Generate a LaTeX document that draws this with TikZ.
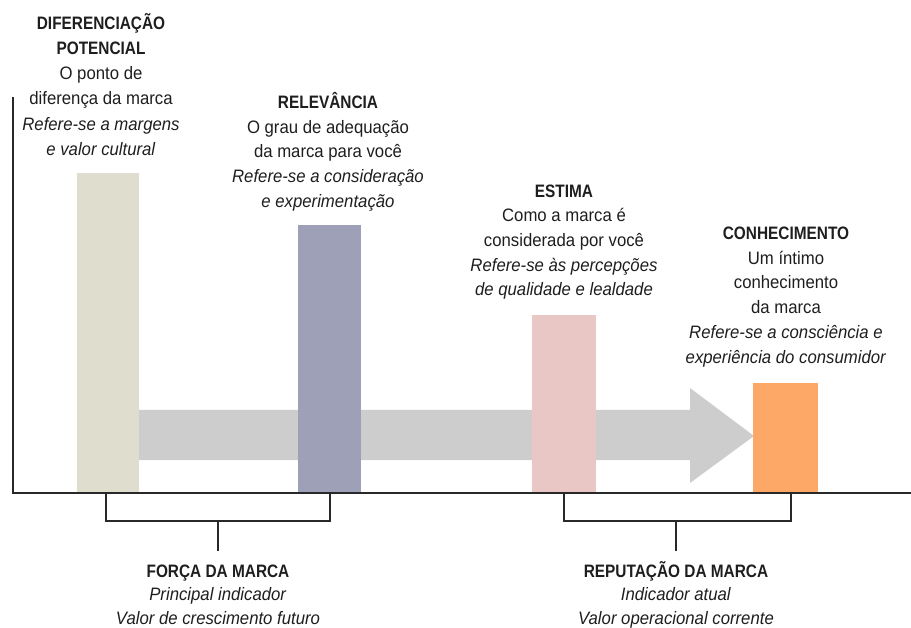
\documentclass[tikz,border=0pt]{standalone}
\usepackage{fontspec}
\setmainfont{Liberation Sans}[FakeStretch=0.93,BoldFeatures={FakeStretch=0.855},BoldItalicFeatures={FakeStretch=0.855}]
\usetikzlibrary{calc}
\definecolor{cA}{RGB}{222,221,206}
\definecolor{cB}{RGB}{158,160,184}
\definecolor{cC}{RGB}{232,199,197}
\definecolor{cD}{RGB}{253,168,102}
\definecolor{cArrow}{RGB}{205,205,205}
\definecolor{cLine}{RGB}{40,40,40}
\definecolor{cText}{RGB}{30,30,30}
\newcommand{\toph}{\vphantom{ÃÂ}}
\begin{document}
\begin{tikzpicture}[x=1pt,y=-1pt,
  bar/.style={draw=none,inner sep=0,anchor=south west},
  lbl/.style={align=center,inner sep=0,anchor=north,text=cText,font=\fontsize{18}{24.7}\selectfont},
  axisline/.style={draw=cLine,line width=2pt},
  brk/.style={draw=cLine,line width=1.8pt}]
\useasboundingbox (0,0) rectangle (911,628);
% arrow
\fill[cArrow] (139,410) -- (690,410) -- (690,388) -- (754,436) -- (690,483) -- (690,460) -- (139,460) -- cycle;
% bars
\node[bar,fill=cA,minimum width=62pt,minimum height=320pt] (b1) at (77,493) {};
\node[bar,fill=cB,minimum width=63pt,minimum height=268pt] (b2) at (298,493) {};
\node[bar,fill=cC,minimum width=64pt,minimum height=178pt] (b3) at (532,493) {};
\node[bar,fill=cD,minimum width=65pt,minimum height=110pt] (b4) at (753,493) {};
% axes
\coordinate (o) at (13,493);
\coordinate (ytop) at (13,97);
\coordinate (xend) at (911,493);
\draw[axisline] (ytop) -- (o) -- (xend);
% top labels
\node[lbl,font=\fontsize{18}{25.2}\selectfont] (t1) at (101,13) {\toph\textbf{DIFERENCIAÇÃO}\\\textbf{POTENCIAL}\\O ponto de\\diferença da marca\\\textit{Refere-se a margens}\\\textit{e valor cultural}};
\node[lbl] (t2) at (328,92) {\toph\textbf{RELEVÂNCIA}\\O grau de adequação\\da marca para você\\\textit{Refere-se a consideração}\\\textit{e experimentação}};
\node[lbl] (t3) at (564,181) {\toph\textbf{ESTIMA}\\Como a marca é\\considerada por você\\\textit{Refere-se às percepções}\\\textit{de qualidade e lealdade}};
\node[lbl] (t4) at (786,223.5) {\toph\textbf{CONHECIMENTO}\\Um íntimo\\conhecimento\\da marca\\\textit{Refere-se a consciência e}\\\textit{experiência do consumidor}};
% bottom labels
\node[lbl,font=\fontsize{18}{23.6}\selectfont] (forca) at (218,561) {\toph\textbf{FORÇA DA MARCA}\\\textit{Principal indicador}\\\textit{Valor de crescimento futuro}};
\node[lbl,font=\fontsize{18}{23.6}\selectfont] (reput) at (676,561) {\toph\textbf{REPUTAÇÃO DA MARCA}\\\textit{Indicador atual}\\\textit{Valor operacional corrente}};
% brackets
\draw[brk] (b1.south) ++(-2,0) -- ++(0,28) coordinate (l1) -| (b2.south);
\coordinate (s1) at (218,551);
\draw[brk] (s1 |- l1) -- (s1);
\draw[brk] (b3.south) -- ++(0,28) coordinate (l2) -| ($(b4.south)+(5,0)$);
\coordinate (s2) at (676,551);
\draw[brk] (s2 |- l2) -- (s2);
\end{tikzpicture}
\end{document}
